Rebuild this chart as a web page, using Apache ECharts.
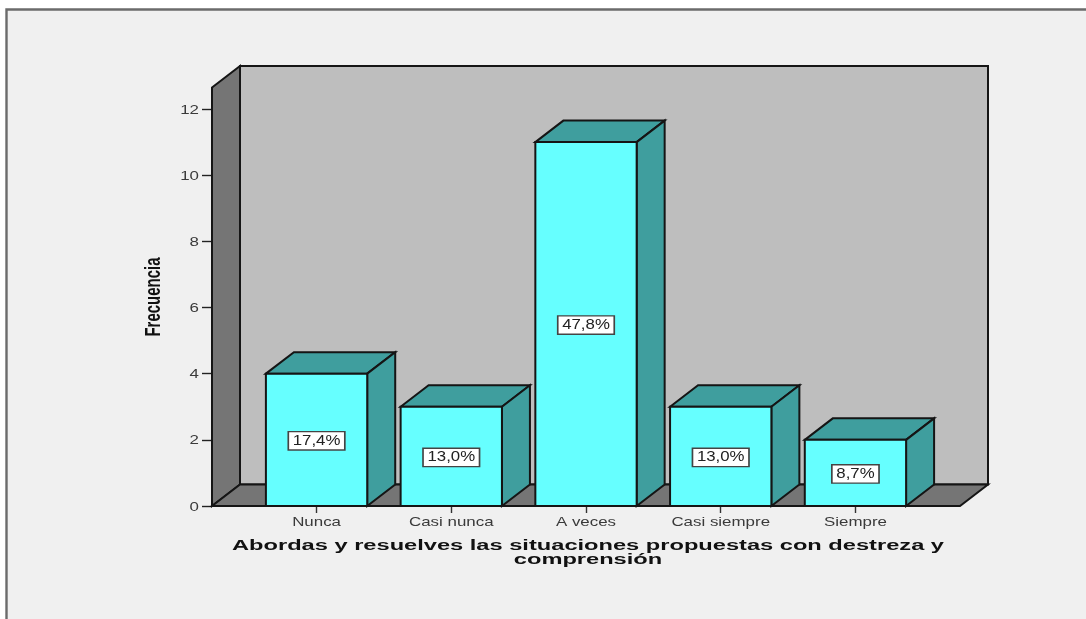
<!DOCTYPE html>
<html>
<head>
<meta charset="utf-8">
<style>html,body{margin:0;padding:0;background:#fff}#chart{width:1086px;height:619px}</style>
<script src="https://cdn.jsdelivr.net/npm/echarts@6/dist/echarts.min.js"></script>
</head>
<body>
<div id="chart"></div>
<script>
// Frequency counts per answer category, with the share printed on each column
const categories = ['Nunca', 'Casi nunca', 'A veces', 'Casi siempre', 'Siempre'];
const frequencies = [4, 3, 11, 3, 2];
const percentLabels = ['17,4%', '13,0%', '47,8%', '13,0%', '8,7%'];
const yTicks = [0, 2, 4, 6, 8, 10, 12];
const xTitle = 'Abordas y resuelves las situaciones propuestas con destreza y\ncomprensión';
const yTitle = 'Frecuencia';

// Oblique projection used for the box depth
const DEPTH_X = 28;
const DEPTH_Y = 21.5;
const WALL_HEADROOM = 21.5;
const BAR_RATIO = 0.752;
const WALL_OVERHANG = 37.2;
const WIDE = 1.3;

const INK = '#151515';
const EDGE = { stroke: INK, lineWidth: 2, lineJoin: 'miter' };
const TEXT = '#3a3a3a';

function poly(points, fill, z2) {
  return { type: 'polygon', z2: z2 || 0, shape: { points }, style: Object.assign({ fill }, EDGE) };
}

// Back wall, side wall, floor and the value-axis labels
function renderRoom(params, api) {
  const cs = params.coordSys;
  const left = cs.x - WALL_OVERHANG;
  const right = cs.x + cs.width + WALL_OVERHANG;
  const floor = api.coord([0, 0])[1];
  const top = api.coord([0, yTicks[yTicks.length - 1]])[1] - WALL_HEADROOM;
  const children = [
    poly([[left + DEPTH_X, top - DEPTH_Y], [right + DEPTH_X, top - DEPTH_Y], [right + DEPTH_X, floor - DEPTH_Y], [left + DEPTH_X, floor - DEPTH_Y]], '#bebebe'),
    poly([[left, top], [left + DEPTH_X, top - DEPTH_Y], [left + DEPTH_X, floor - DEPTH_Y], [left, floor]], '#757575'),
    poly([[left, floor], [left + DEPTH_X, floor - DEPTH_Y], [right + DEPTH_X, floor - DEPTH_Y], [right, floor]], '#757575')
  ];
  yTicks.forEach(function (t) {
    children.push({
      type: 'text', x: left - 13, y: api.coord([0, t])[1] + 1, scaleX: WIDE,
      style: { text: String(t), fill: TEXT, font: '13px "Liberation Sans"', textAlign: 'right', textVerticalAlign: 'middle' }
    });
  });
  return { type: 'group', children };
}

// One box per category: front face, top, side, share label and category name
function renderBox(params, api) {
  const i = api.value(0);
  const v = api.value(1);
  const base = api.coord([i, 0]);
  const head = api.coord([i, v]);
  const half = api.size([1, 0])[0] * BAR_RATIO / 2;
  const x0 = base[0] - half, x1 = base[0] + half;
  const yB = base[1], yT = head[1];
  return {
    type: 'group',
    children: [
      poly([[x0, yT], [x0 + DEPTH_X, yT - DEPTH_Y], [x1 + DEPTH_X, yT - DEPTH_Y], [x1, yT]], '#3f9e9e'),
      poly([[x1, yT], [x1 + DEPTH_X, yT - DEPTH_Y], [x1 + DEPTH_X, yB - DEPTH_Y], [x1, yB]], '#3f9e9e'),
      poly([[x0, yT], [x1, yT], [x1, yB], [x0, yB]], '#66ffff'),
      {
        type: 'text', x: base[0], y: (yT + yB) / 2 + 1, scaleX: 1.2, z2: 5,
        style: {
          text: percentLabels[params.dataIndex], fill: '#222', font: '14px "Liberation Sans"',
          textAlign: 'center', textVerticalAlign: 'middle',
          backgroundColor: '#fff', borderColor: '#444', borderWidth: 1.4, padding: [2, 3, 1, 3]
        }
      },
      {
        type: 'text', x: base[0], y: yB + 16, scaleX: WIDE,
        style: { text: categories[params.dataIndex], fill: TEXT, font: '13px "Liberation Sans"', textAlign: 'center', textVerticalAlign: 'middle' }
      }
    ]
  };
}

const chart = echarts.init(document.getElementById('chart'), null, { renderer: 'canvas' });
chart.setOption({
  animation: false,
  backgroundColor: '#ffffff',
  grid: { left: 249.2, right: 1086 - 922.8, top: 109, bottom: 619 - 506, containLabel: false },
  xAxis: {
    type: 'category', data: categories,
    axisLine: { show: false },
    axisLabel: { show: false },
    axisTick: { show: true, alignWithLabel: true, length: 7, lineStyle: { color: '#333', width: 1.4 } },
    splitLine: { show: false }
  },
  yAxis: {
    type: 'value', min: 0, max: 12, interval: 2, offset: WALL_OVERHANG,
    axisLine: { show: false },
    axisLabel: { show: false },
    axisTick: { show: true, length: 10, lineStyle: { color: '#222', width: 1.4 } },
    splitLine: { show: false }
  },
  graphic: [
    { type: 'rect', z: -10, shape: { x: 6.5, y: 9.5, width: 1100, height: 640 }, style: { fill: '#f0f0f0', stroke: '#6b6b6b', lineWidth: 2.4 } },
    {
      type: 'text', x: 588, y: 553, scaleX: 1.63,
      style: { text: xTitle, fill: '#111', font: 'bold 14.5px "Liberation Sans"', lineHeight: 14.5, textAlign: 'center', textVerticalAlign: 'middle' }
    },
    {
      type: 'text', x: 154, y: 297, rotation: Math.PI / 2, scaleY: 1.45,
      style: { text: yTitle, fill: '#111', font: 'bold 15px "Liberation Sans"', textAlign: 'center', textVerticalAlign: 'middle' }
    }
  ],
  series: [
    { type: 'custom', z: 1, silent: true, clip: false, data: [[0, 0]], encode: { x: 0, y: 1 }, renderItem: renderRoom },
    {
      type: 'custom', z: 3, clip: false, encode: { x: 0, y: 1 },
      data: frequencies.map(function (v, i) { return [i, v]; }),
      renderItem: renderBox
    }
  ]
});
</script>
</body>
</html>
